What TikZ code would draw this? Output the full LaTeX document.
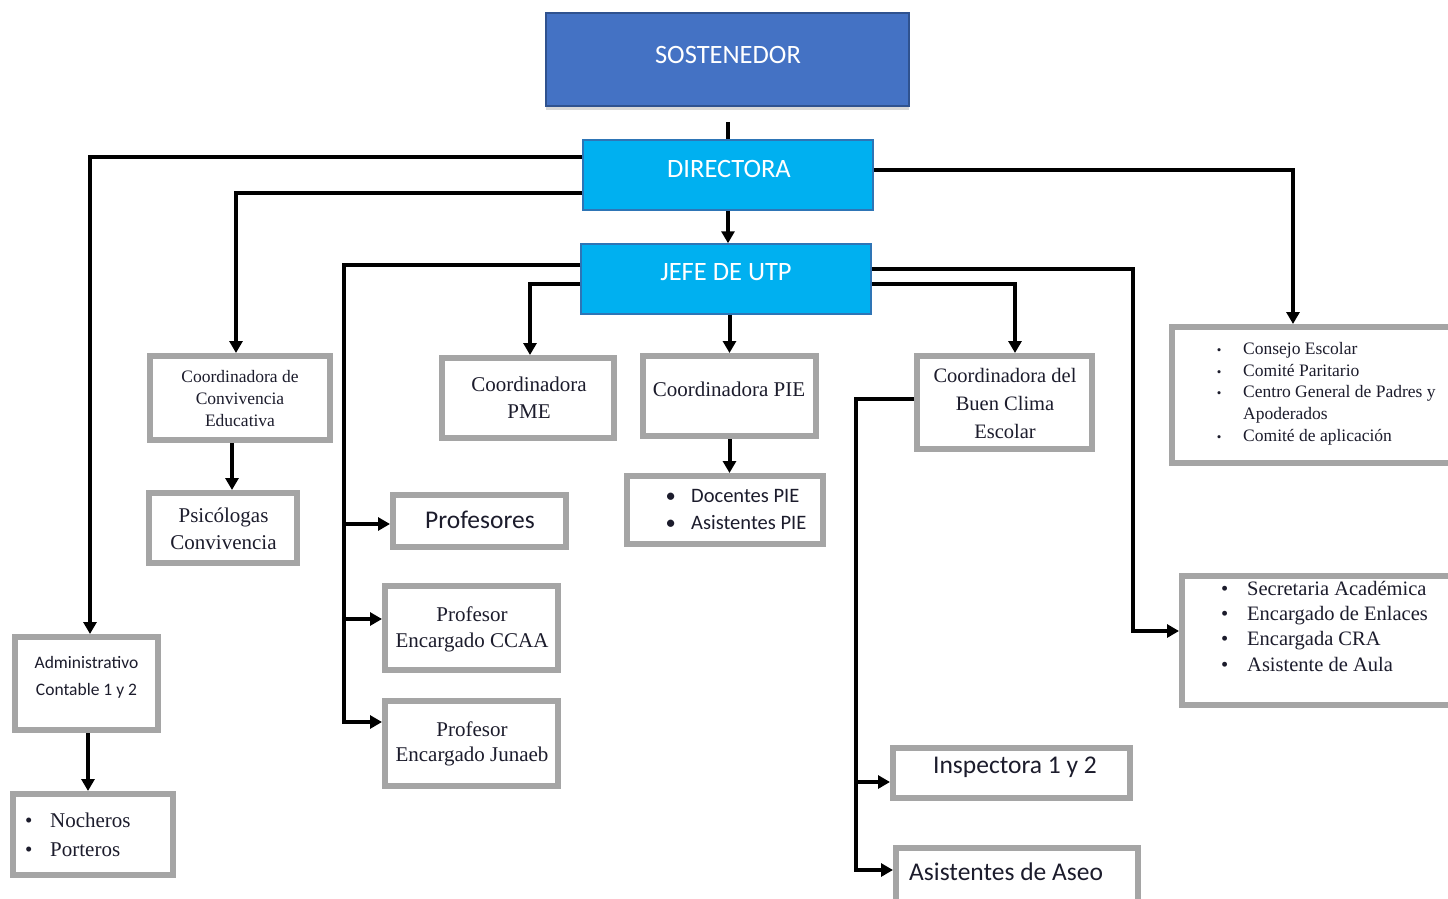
\documentclass[tikz,border=0pt]{standalone}
\usepackage{fontspec}
\setmainfont{Liberation Serif}
\newfontfamily\calib{Carlito}
\usetikzlibrary{arrows.meta,shadows,calc}
\definecolor{boxgray}{HTML}{A5A5A5}
\definecolor{sostblue}{HTML}{4472C4}
\definecolor{sostedge}{HTML}{2F528F}
\definecolor{cyanbox}{HTML}{00B0F0}
\definecolor{cyanedge}{HTML}{2E75B6}
\definecolor{txt}{HTML}{1C1C2C}
\newcommand{\smallbul}{\makebox[6pt]{\fontsize{13}{13}\selectfont\textbullet}}
\newcommand{\mybul}{\makebox[7pt]{\textbullet}}
\begin{document}
\begin{tikzpicture}[x=1pt,y=-1pt,
  gbox/.style={draw=boxgray, line width=6pt, fill=white, inner sep=0pt},
  bbox/.style={fill=cyanbox, draw=cyanedge, line width=1.5pt, inner sep=0pt},
  conn/.style={draw=black, line width=4pt},
  arr/.style={-{Triangle[length=12pt,width=13pt]}},
  lbl/.style={text=txt, inner sep=0pt, align=center},
  wlbl/.style={text=white, inner sep=0pt, font=\calib\fontsize{26.5}{30}\selectfont}]
\useasboundingbox (0,0) rectangle (1448,899);
\clip (0,0) rectangle (1448,899);
\fill[white] (0,0) rectangle (1448,899);

% blue boxes
\node[fill=sostblue, draw=sostedge, line width=1.5pt, inner sep=0pt, minimum width=363pt, minimum height=93pt,
      drop shadow={shadow xshift=0pt, shadow yshift=-4pt, opacity=0.3}] (sost) at (727.5,59.5) {};
\node[bbox, minimum width=290pt, minimum height=70pt] (dir) at (728,175) {};
\node[bbox, minimum width=290pt, minimum height=70pt] (jefe) at (726,279) {};
\node[wlbl] (t-sost) at (728,55) {SOSTENEDOR};
\node[wlbl] (t-dir) at (729,169) {DIRECTORA};
\node[wlbl] (t-jefe) at (726,272) {JEFE DE UTP};

% gray boxes
\node[gbox, minimum width=180pt, minimum height=84pt] (conv) at (240,398) {};
\node[gbox, minimum width=148pt, minimum height=70pt] (psic) at (223,528) {};
\node[gbox, minimum width=143pt, minimum height=93pt] (admin) at (86.5,683.5) {};
\node[gbox, minimum width=160pt, minimum height=81pt] (noch) at (93,834.5) {};
\node[gbox, minimum width=172pt, minimum height=80pt] (pme) at (528,398) {};
\node[gbox, minimum width=173pt, minimum height=80pt] (pie) at (729.5,396) {};
\node[gbox, minimum width=196pt, minimum height=68pt] (docpie) at (725,510) {};
\node[gbox, minimum width=175pt, minimum height=93pt] (clima) at (1004.5,402.5) {};
\node[gbox, minimum width=280pt, minimum height=136pt] (consejo) at (1312,395) {};
\node[gbox, minimum width=270pt, minimum height=129pt] (secre) at (1317,640.5) {};
\node[gbox, minimum width=173pt, minimum height=52pt] (prof) at (479.5,521) {};
\node[gbox, minimum width=173pt, minimum height=84pt] (ccaa) at (471.5,628) {};
\node[gbox, minimum width=173pt, minimum height=85pt] (junaeb) at (471.5,743.5) {};
\node[gbox, minimum width=237pt, minimum height=50pt] (insp) at (1011.5,773) {};
\node[gbox, minimum width=242pt, minimum height=54pt] (aseo) at (1017,875) {};

% texts
\node[lbl, font=\fontsize{17.5}{22}\selectfont] (t-conv) at (240,399) {Coordinadora de\\Convivencia\\Educativa};
\node[lbl, font=\fontsize{21}{27}\selectfont] (t-psic) at (223.5,529) {Psicólogas\\Convivencia};
\node[lbl, font=\calib\fontsize{17.5}{27}\selectfont] (t-admin) at (86.5,677) {Administrativo\\Contable 1 y 2};
\node[lbl, font=\fontsize{21}{27}\selectfont] (t-pme) at (529,398) {Coordinadora\\PME};
\node[lbl, font=\fontsize{21}{27}\selectfont] (t-pie) at (729,389) {Coordinadora PIE};
\node[lbl, font=\fontsize{20.5}{28}\selectfont] (t-clima) at (1005,403) {Coordinadora del\\Buen Clima\\Escolar};
\node[lbl, font=\calib\fontsize{25.5}{30}\selectfont] (t-prof) at (480,520) {Profesores};
\node[lbl, font=\fontsize{21}{25.5}\selectfont] (t-ccaa) at (472,629.5) {Profesor\\Encargado CCAA};
\node[lbl, font=\fontsize{21}{25.5}\selectfont] (t-junaeb) at (472,744) {Profesor\\Encargado Junaeb};
\node[lbl, font=\calib\fontsize{25.5}{30}\selectfont] (t-insp) at (1015,767) {Inspectora 1 y 2};
\node[lbl, font=\calib\fontsize{25.5}{30}\selectfont, anchor=west] (t-aseo) at (909,872) {Asistentes de Aseo};

\node[lbl, anchor=west, font=\fontsize{17.5}{21.7}\selectfont] (t-consejo) at (1216,393.5)
  {\begin{tabular}{@{}l@{\hspace{21pt}}l@{}}
   \smallbul & Consejo Escolar\\
   \smallbul & Comité Paritario\\
   \smallbul & Centro General de Padres y\\
             & Apoderados\\
   \smallbul & Comité de aplicación
   \end{tabular}};
\node[lbl, anchor=west, font=\fontsize{20.5}{25.3}\selectfont] (t-secre) at (1221,628)
  {\begin{tabular}{@{}l@{\hspace{19pt}}l@{}}
   \mybul & Secretaria Académica\\
   \mybul & Encargado de Enlaces\\
   \mybul & Encargada CRA\\
   \mybul & Asistente de Aula
   \end{tabular}};
\node[lbl, anchor=west, font=\fontsize{21}{29}\selectfont] (t-noch) at (25,836.5)
  {\begin{tabular}{@{}l@{\hspace{18pt}}l@{}}
   \mybul & Nocheros\\
   \mybul & Porteros
   \end{tabular}};
\node[lbl, anchor=west, font=\calib\fontsize{20.5}{27}\selectfont] (t-docpie) at (667,510.5)
  {\begin{tabular}{@{}l@{\hspace{17pt}}l@{}}
   \mybul & Docentes PIE\\
   \mybul & Asistentes PIE
   \end{tabular}};

% connectors
\draw[conn] ([yshift=-15pt]sost.south) -- (sost.south |- dir.north);
\draw[conn,arr] (dir.south) -- (dir.south |- jefe.north);
\draw[conn,arr] ([yshift=18pt]dir.west) -| ([xshift=3.5pt]admin.north);
\draw[conn,arr] ([yshift=-18pt]dir.west) -| ([xshift=-4pt]conv.north);
\draw[conn,arr] ([yshift=5pt]dir.east) -| ([xshift=-19pt]consejo.north);

\coordinate (busA) at (344,265);
\coordinate (jA) at ([yshift=21.5pt]junaeb.west);
\coordinate (cA) at ([yshift=9pt]ccaa.west);
\coordinate (pA) at ([yshift=-3pt]prof.west);
\draw[conn,arr] ([yshift=14pt]jefe.west) -- (busA) |- (jA);
\draw[conn,arr] (busA |- pA) -- (pA);
\draw[conn,arr] (busA |- cA) -- (cA);

\draw[conn,arr] ([yshift=-5pt]jefe.west) -| ([xshift=2pt]pme.north);
\draw[conn,arr] (pie.north |- jefe.south) -- (pie.north);

\coordinate (busB) at (1133,269);
\coordinate (sA) at ([yshift=9.5pt]secre.west);
\draw[conn,arr] ([yshift=10pt]jefe.east) -- (busB) |- (sA);
\draw[conn,arr] ([yshift=-5pt]jefe.east) -| ([xshift=10.5pt]clima.north);

\coordinate (busC) at (856,399);
\coordinate (iA) at ([yshift=-9pt]insp.west);
\coordinate (aA) at ([yshift=5pt]aseo.west);
\draw[conn,arr] ([yshift=3.5pt]clima.west) -- (busC) |- (aA);
\draw[conn,arr] (busC |- iA) -- (iA);

\draw[conn,arr] (pie.south) -- (pie.south |- docpie.north);
\coordinate (cS) at ([xshift=-8pt]conv.south);
\draw[conn,arr] (cS) -- (cS |- psic.north);
\coordinate (adS) at ([xshift=1.5pt]admin.south);
\draw[conn,arr] (adS) -- (adS |- noch.north);
\end{tikzpicture}
\end{document}
